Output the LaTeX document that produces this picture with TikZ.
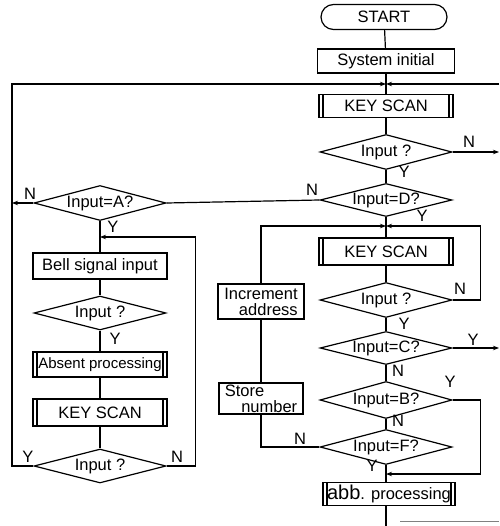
\documentclass[tikz,border=0pt]{standalone}
\usepackage{fontspec}
\setmainfont{Liberation Sans}
\usetikzlibrary{arrows.meta,shapes.geometric,shapes.misc}

\begin{document}
\begin{tikzpicture}[x=1pt, y=-1pt, line width=1.2pt,
  every node/.style={font=\fontsize{16.5}{16}\selectfont},
  box/.style={draw, rectangle, minimum width=134pt, minimum height=25pt, inner sep=1pt},
  pbox/.style={box, path picture={
    \draw ([xshift=4pt]path picture bounding box.north west) -- ([xshift=4pt]path picture bounding box.south west);
    \draw ([xshift=-4pt]path picture bounding box.north east) -- ([xshift=-4pt]path picture bounding box.south east);}},
  dec/.style={draw, diamond, aspect=3.8, minimum width=132pt, minimum height=35pt, inner sep=0pt},
  term/.style={draw, rounded rectangle, minimum width=128pt, minimum height=25pt, inner sep=1pt},
  arr/.style={-{Stealth[length=6pt,width=4.5pt]}}]
\useasboundingbox (0,0) rectangle (499,526);

\node[term] (start) at (384,17) {START};
\node[box, minimum width=137pt, minimum height=24pt] (init) at (386,61) {System initial};
\node[pbox, minimum height=23pt] (scanA) at (386,106) {KEY SCAN};
\node[dec] (inpA) at (386,152) {Input ?};
\node[dec, minimum height=33pt] (eqD) at (386,200) {Input=D?};
\node[pbox, minimum height=27pt] (scanB) at (386,251.5) {KEY SCAN};
\node[dec] (inpB) at (386,300) {Input ?};
\node[dec, minimum height=33pt] (eqC) at (386,348) {Input=C?};
\node[dec, minimum height=37pt] (eqB) at (386,400) {Input=B?};
\node[dec] (eqF) at (386,447) {Input=F?};
\node[pbox, minimum width=132pt, minimum height=23pt] (abb) at (389,494) {{\fontsize{20}{20}\selectfont abb}. processing};

\node[dec] (eqA) at (100,203) {Input=A?};
\node[box, minimum height=26pt] (bell) at (100,266) {Bell signal input};
\node[dec, minimum height=34pt] (inpC) at (100,313) {Input ?};
\node[pbox, font=\fontsize{15}{16}\selectfont] (absent) at (100,364.5) {Absent processing};
\node[pbox, minimum height=27pt] (scanC) at (100,412.5) {KEY SCAN};
\node[dec, minimum height=34pt] (inpD) at (100,466) {Input ?};

\node[box, minimum width=86pt, minimum height=35pt, align=right] (incr) at (261,301.5) {Increment\\address};
\node[box, minimum width=84pt, minimum height=31pt, align=left] (store) at (261,398.5) {Store\\\hspace*{1.0em}number};

\coordinate (jTop) at (386,84);
\coordinate (jMid) at (386,226);
\coordinate (jLeft) at (100,237);
\coordinate (jBot) at (386,474);
\coordinate (eR1) at (499,84);
\coordinate (eR2) at (499,152);
\coordinate (eR3) at (499,348);
\coordinate (eL) at (12,203);
\coordinate (eB) at (386,526);
\coordinate (fA) at (400,521);
\coordinate (fB) at (499,521);

\draw (start) -- (init);
\draw (init) -- (scanA);
\draw[arr] (inpD.west) -- (inpD.west -| eL) |- (jTop);
\draw[arr] (eR1) -- (jTop);
\draw (scanA) -- (inpA);
\draw[arr] (inpA.east) -- (eR2);
\draw (inpA) -- (eqD);
\draw (eqD.west) -- (eqA.east);
\draw[arr] (eqA.west) -- (eL);
\draw (eqA) -- (bell);
\draw[arr] (inpD.east) -- ++(29,0) |- (jLeft);
\draw (bell) -- (inpC);
\draw (inpC) -- (absent);
\draw (absent) -- (scanC);
\draw (scanC) -- (inpD);
\draw (eqD) -- (scanB);
\draw[arr] (inpB.east) -- ++(28,0) |- (jMid);
\draw (eqF.west) -| (store.south);
\draw (store) -- (incr);
\draw[arr] (incr.north) |- (jMid);
\draw (scanB) -- (inpB);
\draw (inpB) -- (eqC);
\draw[arr] (eqC.east) -- (eR3);
\draw (eqC) -- (eqB);
\draw (eqB) -- (eqF);
\draw (eqF) -- (abb.north -| eqF);
\draw[arr] (eqB.east) -- ++(28,0) |- (jBot);
\draw (abb.south -| eB) -- (eB);
\draw[line width=0.6pt, gray] (fA) -- (fB);

\node (nInpA) at (469,142) {N};
\node (yInpA) at (404,172) {Y};
\node (nEqD) at (312,190) {N};
\node (yEqD) at (422,216) {Y};
\node (nEqA) at (30,194) {N};
\node (yEqA) at (113,227) {Y};
\node (yInpC) at (115,339) {Y};
\node (yInpD) at (28,457) {Y};
\node (nInpD) at (177,457) {N};
\node (nInpB) at (460,289) {N};
\node (yInpB) at (404,324) {Y};
\node (yEqC) at (473,340) {Y};
\node (nEqC) at (398,371) {N};
\node (yEqB) at (450,382) {Y};
\node (nEqB) at (398,421) {N};
\node (nEqF) at (300,439) {N};
\node (yEqF) at (372,466) {Y};
\end{tikzpicture}
\end{document}
